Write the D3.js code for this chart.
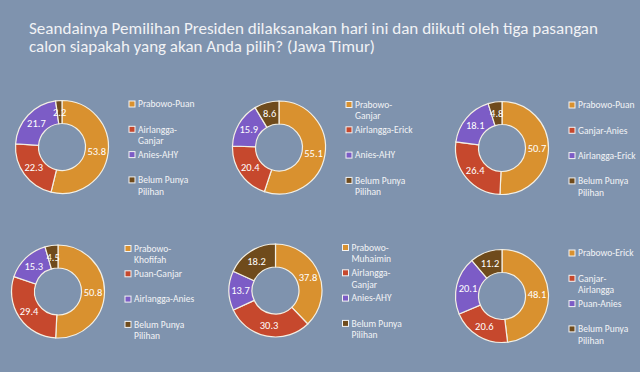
<!DOCTYPE html>
<html>
<head>
<meta charset="utf-8">
<script src="https://cdn.jsdelivr.net/npm/d3@7"></script>
<style>
  html, body { margin: 0; padding: 0; background: #7f93ae; }
  svg text { font-family: Calibri, Carlito, "Open Sans", sans-serif; }
</style>
</head>
<body>
<div id="chart"></div>
<script>
var titleLines = [
  "Seandainya Pemilihan Presiden dilaksanakan hari ini dan diikuti oleh tiga pasangan",
  "calon siapakah yang akan Anda pilih? (Jawa Timur)"
];

// one entry per donut, slices in clockwise order from 12 o'clock
var labels1 = ["Prabowo-Puan", "Airlangga-\nGanjar", "Anies-AHY", "Belum Punya\nPilihan"];
var values1 = [53.8, 22.3, 21.7, 2.2];
var labels2 = ["Prabowo-\nGanjar", "Airlangga-Erick", "Anies-AHY", "Belum Punya\nPilihan"];
var values2 = [55.1, 20.4, 15.9, 8.6];
var labels3 = ["Prabowo-Puan", "Ganjar-Anies", "Airlangga-Erick", "Belum Punya\nPilihan"];
var values3 = [50.7, 26.4, 18.1, 4.8];
var labels4 = ["Prabowo-\nKhofifah", "Puan-Ganjar", "Airlangga-Anies", "Belum Punya\nPilihan"];
var values4 = [50.8, 29.4, 15.3, 4.5];
var labels5 = ["Prabowo-\nMuhaimin", "Airlangga-\nGanjar", "Anies-AHY", "Belum Punya\nPilihan"];
var values5 = [37.8, 30.3, 13.7, 18.2];
var labels6 = ["Prabowo-Erick", "Ganjar-\nAirlangga", "Puan-Anies", "Belum Punya\nPilihan"];
var values6 = [48.1, 20.6, 20.1, 11.2];

var sliceColors = ["#d9912f", "#c6482d", "#7c5cc6", "#6f4b1c"];

var charts = [
  {labels: labels1, values: values1, cx: 62,  cy: 147},
  {labels: labels2, values: values2, cx: 279, cy: 147.5},
  {labels: labels3, values: values3, cx: 502, cy: 148},
  {labels: labels4, values: values4, cx: 58,  cy: 291.5},
  {labels: labels5, values: values5, cx: 275.5, cy: 290.5},
  {labels: labels6, values: values6, cx: 502, cy: 296}
];

var width = 640, height = 372;
var outerR = 46.5, innerR = 23.5;

var svg = d3.select("#chart").append("svg")
    .attr("width", width)
    .attr("height", height);

svg.append("rect")
    .attr("width", width).attr("height", height)
    .attr("fill", "#7f93ae");

svg.append("g").selectAll("text")
    .data(titleLines)
  .enter().append("text")
    .attr("x", 29)
    .attr("y", function(d, i) { return 34 + i * 18; })
    .attr("fill", "#f1f2f5")
    .style("font-size", "16px")
    .attr("textLength", function(d, i) { return i == 0 ? 569 : 346; })
    .attr("lengthAdjust", "spacingAndGlyphs")
    .text(function(d) { return d; });

var color = d3.scaleOrdinal().domain([0, 1, 2, 3]).range(sliceColors);

var pie = d3.pie().sort(null).value(function(d) { return d; });
var arc = d3.arc().innerRadius(innerR).outerRadius(outerR);

charts.forEach(function(c) {
  var g = svg.append("g")
      .attr("transform", "translate(" + c.cx + "," + c.cy + ")");

  var arcs = g.selectAll(".slice")
      .data(pie(c.values))
    .enter().append("g").attr("class", "slice");

  arcs.append("path")
      .attr("d", arc)
      .attr("fill", function(d, i) { return color(i); })
      .attr("stroke", "#f3efe4")
      .attr("stroke-width", 1.2);

  arcs.append("text")
      .attr("transform", function(d) { return "translate(" + arc.centroid(d) + ")"; })
      .attr("dy", "0.35em")
      .style("text-anchor", "middle")
      .style("font-size", "10.5px")
      .attr("fill", "#ffffff")
      .text(function(d) { return d.value.toFixed(1); });

  // legend, one text element per line so the lines don't share a box
  var leg = g.selectAll(".legend")
      .data(c.labels)
    .enter().append("g")
      .attr("class", "legend")
      .attr("transform", function(d, i) { return "translate(67," + (-43 + i * 25.3) + ")"; });

  leg.append("rect")
      .attr("x", 0).attr("y", -3)
      .attr("width", 6).attr("height", 6)
      .attr("fill", function(d, i) { return color(i); })
      .attr("stroke", "#f3f3f3")
      .attr("stroke-width", 1);

  leg.selectAll("text")
      .data(function(d) { return d.split("\n"); })
    .enter().append("text")
      .attr("x", 9)
      .attr("y", function(d, i) { return i * 11.5; })
      .attr("dy", "0.35em")
      .attr("fill", "#f3f4f6")
      .style("font-size", "9.5px")
      .text(function(d) { return d; });
});
</script>
</body>
</html>
